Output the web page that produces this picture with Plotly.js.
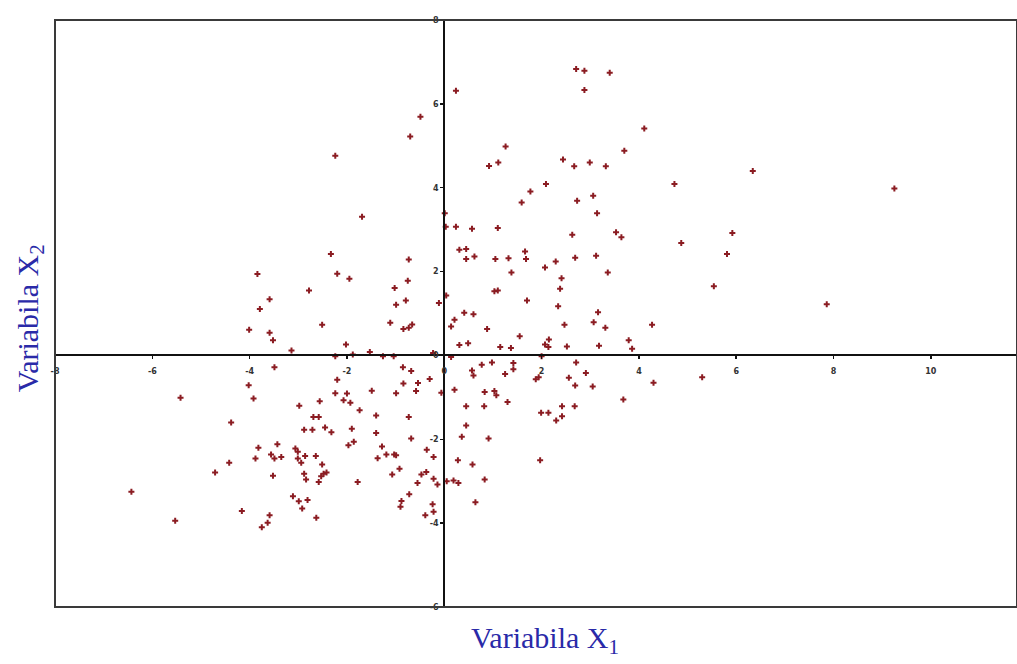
<!DOCTYPE html>
<html>
<head>
<meta charset="utf-8">
<script src="https://cdn.plot.ly/plotly-3.0.1.min.js"></script>
<style>html,body{margin:0;padding:0;background:#fff;}#chart{width:1017px;height:664px;}</style>
</head>
<body>
<div id="chart"></div>
<script>
// Values (Variabila X1, Variabila X2)
const x1 = [
 0.24,-0.49,-0.70,2.71,2.88,3.40,2.88,4.11,3.70,1.26,0.92,1.11,2.44,2.67,2.99,3.32,4.73,2.09,1.77,1.59,2.73,3.06,3.14,0.01,-1.69,-2.24,
 6.34,9.25,4.87,5.92,5.81,5.54,7.86,5.30,
 0.03,0.24,0.57,1.10,2.63,3.53,3.64,0.31,0.45,0.45,0.62,1.05,1.32,1.66,1.68,2.29,2.69,3.12,2.07,1.38,2.41,3.36,2.38,1.03,1.10,1.70,2.34,
 0.04,-0.11,0.41,0.60,3.16,3.07,3.31,4.27,2.47,0.21,0.14,0.88,1.55,0.31,0.49,1.15,1.37,2.07,2.14,2.15,2.52,3.18,3.79,3.86,2.00,0.14,-0.23,
 -2.02,-1.88,-1.53,-1.26,-1.04,-0.73,-1.95,-1.02,-0.75,-0.99,-0.79,-1.11,-0.84,-0.73,-0.66,
 -0.85,-0.68,-0.30,-0.84,-0.54,-0.58,-0.99,-1.49,-0.06,0.21,0.57,0.60,0.77,0.98,1.25,1.42,1.42,1.88,1.94,2.71,2.91,2.56,2.69,3.05,4.30,3.68,
 0.83,1.03,1.07,1.30,0.45,0.82,1.99,2.14,2.42,2.68,2.30,2.42,0.45,0.36,0.91,-1.40,-0.73,-1.74,-2.00,-1.93,-2.07,-1.90,-1.40,-0.68,
 -2.33,-3.84,-2.20,-2.78,-3.59,-3.79,-2.51,-4.01,-3.59,-3.52,-3.14,-2.24,-3.49,-4.02,-3.92,-5.42,-2.20,-2.24,-2.56,-2.98,-2.69,-2.58,-2.88,-2.71,-2.45,-2.32,-4.38,
 -6.43,-5.53,-4.71,-4.42,-3.88,-3.82,-3.43,-3.56,-3.49,-3.35,-3.06,-3.01,-3.01,-2.94,-2.86,-2.64,-2.51,-2.48,-2.53,-2.42,-3.52,-2.88,-2.84,-2.58,
 -3.11,-2.99,-2.81,-2.92,-2.63,-4.16,-3.59,-3.63,-3.75,
 -1.86,-1.97,-1.28,-1.37,-1.19,-1.03,-0.99,-0.36,-0.22,-1.07,-0.92,-0.47,-0.37,-1.78,-0.55,-0.22,-0.14,0.05,0.19,0.29,0.28,0.58,0.83,0.64,1.97,
 -0.72,-0.88,-0.90,-0.24,-0.22,-0.39
];
const x2 = [
 6.31,5.69,5.22,6.83,6.79,6.74,6.33,5.41,4.88,4.98,4.52,4.60,4.67,4.51,4.60,4.51,4.09,4.09,3.91,3.65,3.69,3.81,3.39,3.39,3.31,4.76,
 4.40,3.98,2.68,2.92,2.42,1.65,1.22,-0.52,
 3.07,3.07,3.02,3.04,2.88,2.94,2.82,2.52,2.54,2.30,2.36,2.30,2.32,2.48,2.30,2.24,2.33,2.38,2.10,1.98,1.84,1.98,1.59,1.53,1.55,1.31,1.17,
 1.43,1.25,1.02,0.98,1.03,0.79,0.66,0.73,0.73,0.85,0.69,0.63,0.46,0.25,0.29,0.20,0.18,0.26,0.20,0.38,0.21,0.23,0.36,0.16,-0.02,-0.04,0.06,
 0.26,0.02,0.08,-0.02,-0.02,2.29,1.83,1.61,1.78,1.21,1.31,0.78,0.63,0.66,0.74,
 -0.28,-0.37,-0.56,-0.67,-0.66,-0.85,-0.90,-0.84,-0.89,-0.82,-0.36,-0.48,-0.22,-0.17,-0.44,-0.18,-0.33,-0.57,-0.52,-0.17,-0.42,-0.53,-0.72,-0.74,-0.65,-1.05,
 -0.87,-0.85,-0.95,-1.11,-1.21,-1.21,-1.37,-1.37,-1.21,-1.21,-1.55,-1.45,-1.67,-1.94,-1.98,-1.43,-1.47,-1.31,-0.91,-1.13,-1.07,-1.75,-1.85,-1.98,
 2.42,1.94,1.95,1.55,1.34,1.11,0.73,0.61,0.54,0.36,0.12,-0.02,-0.28,-0.71,-1.03,-1.01,-0.58,-0.90,-1.09,-1.20,-1.47,-1.47,-1.77,-1.77,-1.72,-1.83,-1.60,
 -3.25,-3.94,-2.79,-2.56,-2.46,-2.20,-2.12,-2.36,-2.46,-2.42,-2.22,-2.30,-2.46,-2.56,-2.40,-2.40,-2.60,-2.82,-2.88,-2.79,-2.87,-2.82,-2.96,-3.02,
 -3.36,-3.48,-3.45,-3.65,-3.87,-3.71,-3.81,-3.99,-4.10,
 -2.06,-2.14,-2.17,-2.45,-2.36,-2.36,-2.38,-2.25,-2.42,-2.84,-2.70,-2.84,-2.78,-3.02,-3.04,-2.94,-3.08,-3.00,-2.98,-3.04,-2.50,-2.60,-2.96,-3.50,-2.50,
 -3.31,-3.47,-3.61,-3.55,-3.73,-3.81
];
const xTicks = [-8,-6,-4,-2,0,2,4,6,8,10];
const yTicks = [-6,-4,-2,0,2,4,6,8];
const xTitle = 'Variabila X<sub>1</sub>';
const yTitle = 'Variabila X<sub>2</sub>';

const xRange = [-8, 11.77];
const yRange = [-6, 8];

const trace = {
  x: x1, y: x2, type: 'scatter', mode: 'markers',
  marker: {symbol: 'cross', size: 5, color: '#8b1c22'},
  hoverinfo: 'x+y'
};

const tickFont = {family: 'DejaVu Sans', size: 8, color: '#333', weight: 'bold'};
const titleFont = {family: 'Times New Roman, Liberation Serif, DejaVu Serif, serif', size: 30, color: '#2a2aa8'};

const layout = {
  width: 1017, height: 664,
  margin: {l: 55, r: 0, t: 20, b: 57},
  paper_bgcolor: '#fff', plot_bgcolor: '#fff',
  showlegend: false,
  font: {family: 'Times New Roman, Liberation Serif, DejaVu Serif, serif'},
  xaxis: {
    range: xRange, tickvals: xTicks, ticktext: xTicks.map(String),
    anchor: 'free', position: (0 - yRange[0]) / (yRange[1] - yRange[0]),
    showline: true, linecolor: '#111', linewidth: 2,
    ticks: 'outside', ticklen: 3, tickwidth: 1.5, tickcolor: '#111',
    showgrid: false, zeroline: false, tickfont: tickFont, ticklabelstandoff: 5
  },
  yaxis: {
    range: yRange, tickvals: yTicks, ticktext: yTicks.map(String),
    anchor: 'free', position: (0 - xRange[0]) / (xRange[1] - xRange[0]),
    showline: true, linecolor: '#111', linewidth: 2,
    ticks: 'outside', ticklen: 3, tickwidth: 1.5, tickcolor: '#111',
    showgrid: false, zeroline: false, tickfont: tickFont
  },
  shapes: [{type: 'rect', xref: 'paper', yref: 'paper', x0: 0, x1: 1, y0: 0, y1: 1,
            line: {color: '#3a3a3a', width: 2}}],
  annotations: [
    {text: xTitle, xref: 'paper', yref: 'paper', x: 0.509, y: -0.056, showarrow: false,
     xanchor: 'center', yanchor: 'middle', font: titleFont},
    {text: yTitle, xref: 'paper', yref: 'paper', x: -0.026, y: 0.492, showarrow: false,
     textangle: -90, xanchor: 'center', yanchor: 'middle', font: titleFont}
  ]
};

Plotly.newPlot('chart', [trace], layout, {displayModeBar: false, staticPlot: true});
</script>
</body>
</html>
